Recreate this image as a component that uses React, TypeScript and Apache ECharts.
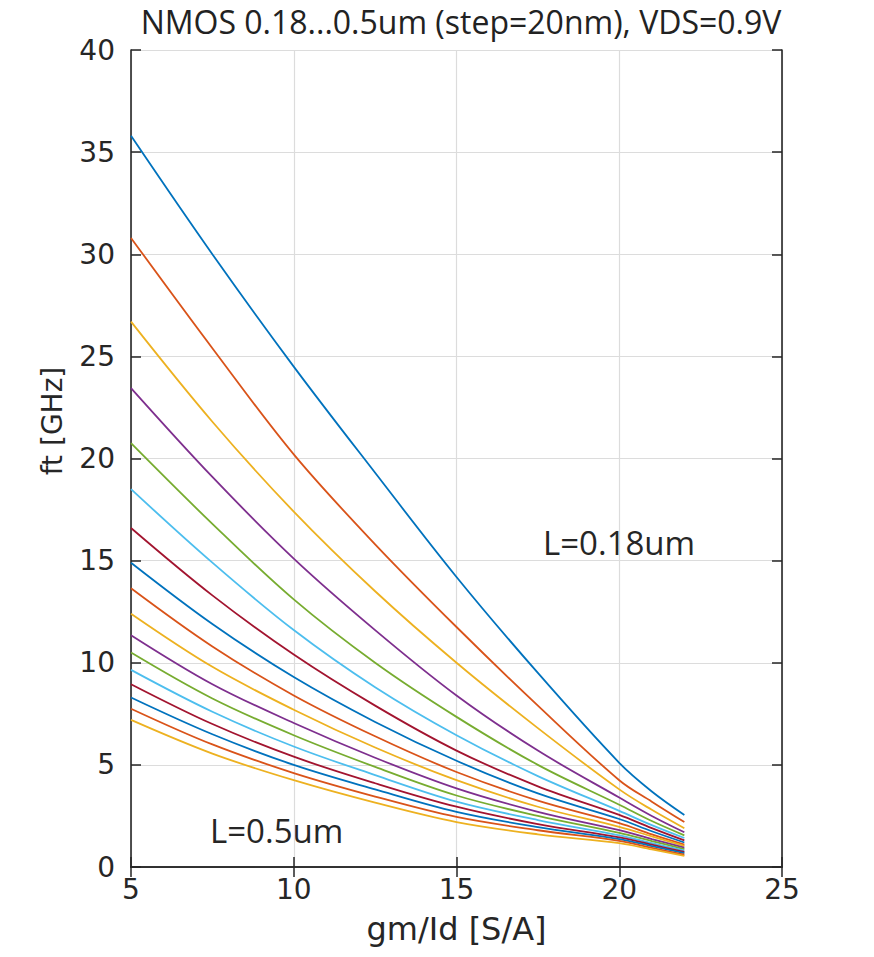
import React, { useEffect, useRef } from "react";
import * as echarts from "echarts";

// gm/Id sample points [S/A]
const gmId = [5, 7.5, 10, 12.5, 15, 17.5, 20, 21, 22];

// channel lengths (um), step 20 nm
const lengths = ["0.18", "0.20", "0.22", "0.24", "0.26", "0.28", "0.30", "0.32", "0.34", "0.36", "0.38", "0.40", "0.42", "0.44", "0.46", "0.48", "0.50"];

// ft [GHz] for each length
const ft018 = [35.8, 30.0, 24.5, 19.3, 14.2, 9.5, 5.1, 3.7, 2.55];
const ft020 = [30.8, 25.4, 20.2, 15.8, 11.75, 7.9, 4.25, 3.2, 2.2];
const ft022 = [26.7, 21.8, 17.4, 13.5, 10.0, 6.8, 3.8, 2.8, 1.9];
const ft024 = [23.45, 19.1, 15.1, 11.6, 8.4, 5.7, 3.4, 2.5, 1.7];
const ft026 = [20.75, 16.8, 13.1, 10.0, 7.35, 5.0, 3.05, 2.25, 1.55];
const ft028 = [18.5, 14.9, 11.6, 8.8, 6.45, 4.45, 2.75, 2.05, 1.42];
const ft030 = [16.6, 13.3, 10.4, 7.9, 5.7, 3.95, 2.55, 1.9, 1.3];
const ft032 = [14.9, 11.9, 9.3, 7.1, 5.2, 3.6, 2.35, 1.75, 1.2];
const ft034 = [13.65, 10.8, 8.4, 6.4, 4.65, 3.25, 2.15, 1.6, 1.1];
const ft036 = [12.4, 9.8, 7.7, 5.85, 4.25, 2.95, 1.97, 1.5, 1.03];
const ft038 = [11.35, 8.95, 7.05, 5.35, 3.85, 2.7, 1.8, 1.37, 0.95];
const ft040 = [10.5, 8.25, 6.45, 4.9, 3.5, 2.5, 1.67, 1.27, 0.88];
const ft042 = [9.65, 7.6, 5.9, 4.5, 3.2, 2.3, 1.55, 1.17, 0.8];
const ft044 = [8.95, 7.0, 5.4, 4.1, 2.95, 2.1, 1.45, 1.09, 0.74];
const ft046 = [8.3, 6.5, 5.0, 3.8, 2.7, 1.95, 1.37, 1.02, 0.68];
const ft048 = [7.75, 6.0, 4.6, 3.45, 2.45, 1.8, 1.28, 0.94, 0.6];
const ft050 = [7.2, 5.55, 4.25, 3.15, 2.2, 1.6, 1.17, 0.86, 0.55];

const ftCurves = [ft018, ft020, ft022, ft024, ft026, ft028, ft030, ft032, ft034, ft036, ft038, ft040, ft042, ft044, ft046, ft048, ft050];

const palette = ["#0072BD", "#D95319", "#EDB120", "#7E2F8E", "#77AC30", "#4DBEEE", "#A2142F"];

const titleText = "NMOS 0.18...0.5um (step=20nm), VDS=0.9V";
const xName = "gm/Id [S/A]";
const yName = "ft [GHz]";
const labelShort = "L=0.18um";
const labelLong = "L=0.5um";

export default function App() {
  const ref = useRef<HTMLDivElement>(null);
  useEffect(() => {
    if (!ref.current) return;
    const chart = echarts.init(ref.current, undefined, { renderer: "svg" });
    const axisColor = "#262626";
    const tickFont = { fontFamily: "DejaVu Sans", fontSize: 28, color: axisColor };
    const baseAxis = {
      axisLine: { show: true, lineStyle: { color: axisColor, width: 1.6 } },
      axisTick: { show: true, inside: true, length: 10, lineStyle: { color: axisColor, width: 1.5 } },
    };
    const series = ftCurves.map((vals, i) => ({
      name: "L=" + lengths[i] + "um",
      type: "line",
      xAxisIndex: 0,
      yAxisIndex: 0,
      data: gmId.map((x, k) => [x, vals[k]]),
      showSymbol: false,
      smooth: 0.35,
      lineStyle: { width: 1.8, color: palette[i % palette.length] },
      itemStyle: { color: palette[i % palette.length] },
      z: 3,
    }));
    chart.setOption({
      animation: false,
      backgroundColor: "#ffffff",
      grid: { left: 131, top: 50, right: 92, bottom: 90, containLabel: false },
      xAxis: [
        {
          type: "value", min: 5, max: 25, interval: 5, position: "bottom",
          ...baseAxis,
          axisLabel: { ...tickFont, margin: 8 },
          splitLine: { show: true, lineStyle: { color: "#dcdcdc", width: 1.2 } },
          name: xName, nameLocation: "middle", nameGap: 46,
          nameTextStyle: { fontFamily: "DejaVu Sans", fontSize: 32, color: axisColor },
        },
        {
          type: "value", min: 5, max: 25, interval: 5, position: "top",
          ...baseAxis,
          axisLabel: { show: false },
          splitLine: { show: false },
        },
      ],
      yAxis: [
        {
          type: "value", min: 0, max: 40, interval: 5, position: "left",
          ...baseAxis,
          axisLabel: { ...tickFont, margin: 16 },
          splitLine: { show: true, lineStyle: { color: "#dcdcdc", width: 1.2 } },
        },
        {
          type: "value", min: 0, max: 40, interval: 5, position: "right",
          ...baseAxis,
          axisLabel: { show: false },
          splitLine: { show: false },
        },
      ],
      graphic: [
        {
          type: "text", x: 461, y: 21,
          style: { text: titleText, fontFamily: "Open Sans", fontSize: 32, fill: "#222222", textAlign: "center", textVerticalAlign: "middle" },
        },
        {
          type: "text", x: 52, y: 421, rotation: Math.PI / 2,
          style: { text: yName, fontFamily: "DejaVu Sans", fontSize: 28, fill: axisColor, textAlign: "center", textVerticalAlign: "middle" },
        },
        {
          type: "text", x: 543, y: 542,
          style: { text: labelShort, fontFamily: "Open Sans", fontSize: 33, fill: axisColor, textAlign: "left", textVerticalAlign: "middle" },
        },
        {
          type: "text", x: 210, y: 830,
          style: { text: labelLong, fontFamily: "Open Sans", fontSize: 33, fill: axisColor, textAlign: "left", textVerticalAlign: "middle" },
        },
      ],
      series,
    });
    return () => chart.dispose();
  }, []);
  return <div ref={ref} style={{ position: "fixed", left: 0, top: 0, width: 874, height: 957 }} />;
}
